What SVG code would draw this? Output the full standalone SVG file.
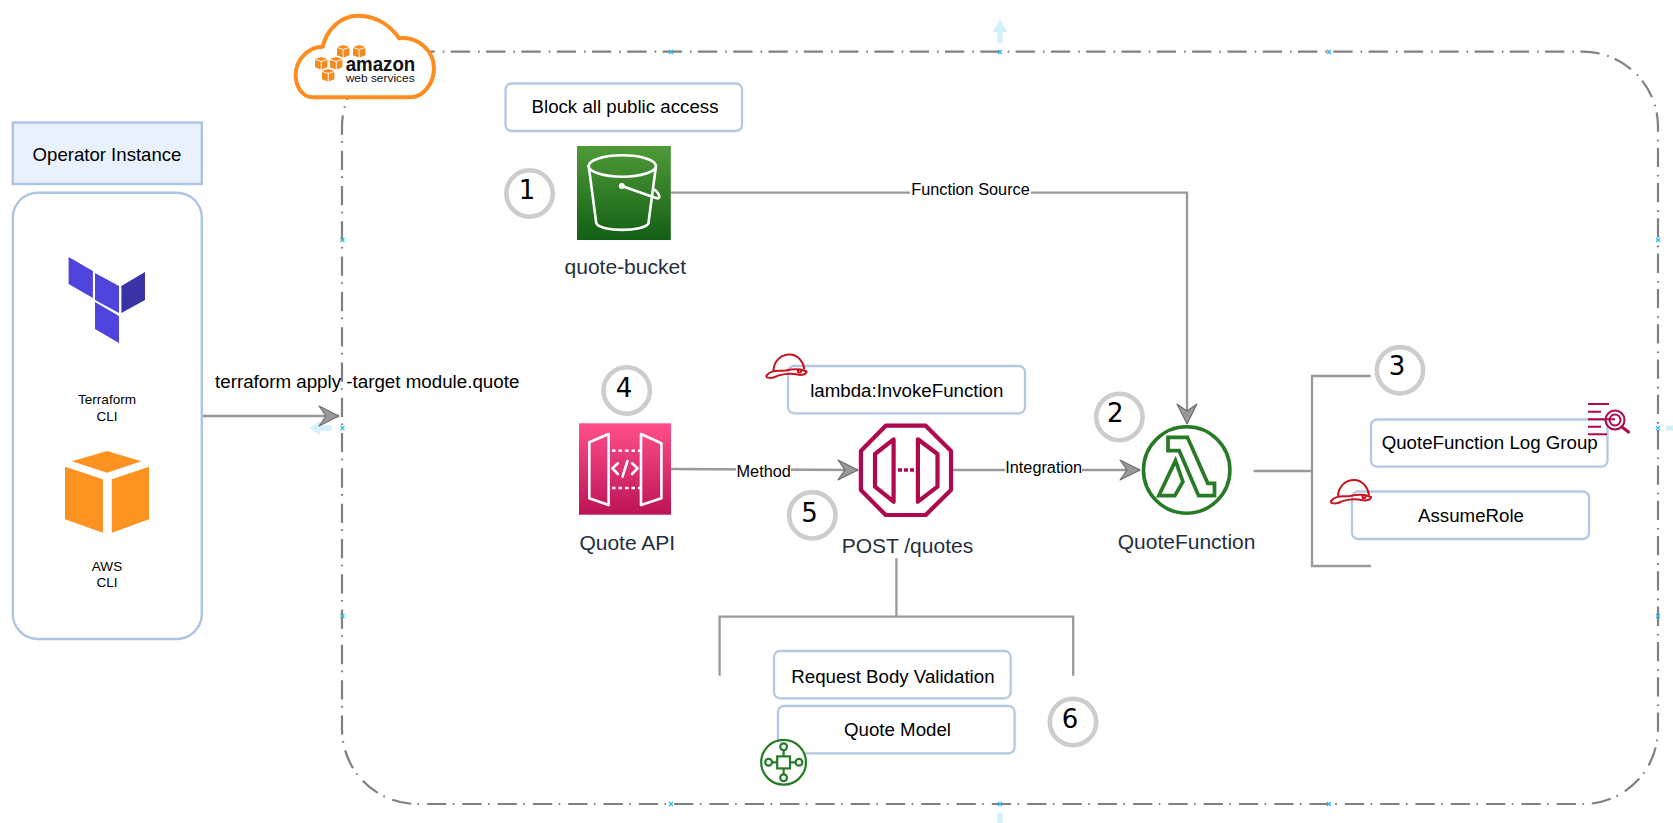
<svg xmlns="http://www.w3.org/2000/svg" xmlns:xlink="http://www.w3.org/1999/xlink" width="1673" height="823" viewBox="0 0 1673 823">
<style>
text{font-family:"Liberation Sans",Arial,sans-serif;fill:#000}
.c{text-anchor:middle}
.box{fill:#fff;stroke:#b4c8e2;stroke-width:2.3}
.t{font-size:18.7px}
.s{font-size:13.6px}
.e{font-size:16.3px}
.n{font-size:21px;fill:#232f3e}
.num{font-family:"DejaVu Sans",sans-serif;font-size:26px}
.ring{fill:#fff;stroke:#cdcdcd;stroke-width:4.6}
.line{fill:none;stroke:#999;stroke-width:2.3}
.hat{fill:none;stroke:#c7131f;stroke-width:2}
.w{fill:none;stroke:#fff;stroke-width:2.6;stroke-linejoin:round;stroke-linecap:round}
.crim{fill:none;stroke:#b0084d;stroke-width:4.2;stroke-linejoin:round}
.grn{fill:none;stroke:#277a26}
.flow{fill:#d4f0fc}
.x{fill:none;stroke:#29b6f2;stroke-width:1.1}
</style>
<defs>
<linearGradient id="gS3" x1="0" y1="0" x2="0" y2="1"><stop offset="0" stop-color="#4f9a38"/><stop offset="1" stop-color="#135f15"/></linearGradient>
<linearGradient id="gApi" x1="0" y1="0" x2="0" y2="1"><stop offset="0" stop-color="#ff4f8b"/><stop offset="1" stop-color="#bc1356"/></linearGradient>
<marker id="arrow" markerUnits="userSpaceOnUse" viewBox="-22 -12 24 24" refX="0" refY="0" markerWidth="24" markerHeight="24" orient="auto">
<path d="M0,0 L-20,-10 L-13,0 L-20,10 Z" fill="#999" stroke="#6e6e6e" stroke-width="1.1" stroke-linejoin="round"/>
</marker>
<path id="mark" d="M-2,-2 L2,2 M-2,2 L2,-2"/>
<g id="cube">
<path d="M6.2,0 L12.4,2 L6.2,4 L0,2 Z" fill="#f58a1f"/>
<path d="M0,3 L5.7,4.8 L5.7,12.4 L0,10.2 Z" fill="#f58a1f"/>
<path d="M6.7,4.8 L12.4,3 L12.4,10.2 L6.7,12.4 Z" fill="#f58a1f"/>
</g>
<g id="helmet">
<path d="M8,17 C8,6 16,0 24,0 C33,0 38,8 39,15"/>
<path d="M1,21 C6,15 12,17 20,16 C28,14 35,14 41,17 C41,20 36,21 32,20 C24,18 14,20 8,23 C4,24 0,23 1,21 Z"/>
<circle cx="34" cy="16.5" r="1.6"/>
</g>
</defs>
<rect width="1673" height="823" fill="#fff"/>

<g id="aws-frame">
<path d="M417,51.7 H1583 A75,75 0 0 1 1658,126.7 V729 A75,75 0 0 1 1583,804 H417 A75,75 0 0 1 342,729 V126.7 A75,75 0 0 1 417,51.7 Z" fill="none" stroke="#808080" stroke-width="2.2" stroke-dasharray="19.3 8 1.6 6.4" stroke-dashoffset="1.5"/>
<g class="x">
<use href="#mark" x="342.5" y="240"/><use href="#mark" x="342.5" y="428"/><use href="#mark" x="342.5" y="616"/>
<use href="#mark" x="671" y="52"/><use href="#mark" x="1000" y="52"/><use href="#mark" x="1329" y="52"/>
<use href="#mark" x="1658" y="240"/><use href="#mark" x="1658" y="428"/><use href="#mark" x="1658" y="616"/>
<use href="#mark" x="671" y="804"/><use href="#mark" x="1000" y="804"/><use href="#mark" x="1329" y="804"/>
</g>
<path class="flow" d="M1000,19 L1007.3,32 H1002.7 V43 H997.3 V32 H992.7 Z"/>
<path class="flow" d="M309,428 L320,421 V425.3 H332 V430.7 H320 V435 Z"/>
<rect class="flow" x="1666" y="425.5" width="7" height="5.4"/>
<rect class="flow" x="997.3" y="813" width="5.4" height="10"/>
</g>

<g id="connectors">
<path class="line" d="M202,416 H339" marker-end="url(#arrow)"/>
<path class="line" d="M671,192.7 H1187 V424" marker-end="url(#arrow)"/>
<path class="line" d="M671,469 L858,470" marker-end="url(#arrow)"/>
<path class="line" d="M952.5,470 H1140" marker-end="url(#arrow)"/>
<path class="line" d="M1253.6,471 H1312 M1370.7,376 H1312 V566 H1371"/>
<path class="line" d="M896.4,558.3 V616.7 M719.6,675.7 V616.7 H1073.2 V675.7"/>
<rect x="910" y="183" width="121" height="18" fill="#fff"/>
<text class="e c" x="970.5" y="195">Function Source</text>
<rect x="736" y="461" width="55" height="18" fill="#fff"/>
<text class="e c" x="763.7" y="477">Method</text>
<rect x="1005" y="459" width="77" height="18" fill="#fff"/>
<text class="e c" x="1043.7" y="472.7">Integration</text>
<text x="215" y="388" style="font-size:18.75px">terraform apply -target module.quote</text>
</g>

<g id="aws-cloud">
<g transform="translate(280,0) scale(0.3333)">
<path d="M100,292 C60,292 47,250 47,225 C47,175 90,140 128,140 C140,90 180,47 235,47 C290,47 335,80 357,115 C410,108 462,150 462,205 C462,250 430,292 390,292 Z" fill="#fff" stroke="#ff8c1e" stroke-width="12" stroke-linejoin="round"/>
</g>
<use href="#cube" x="337" y="45"/><use href="#cube" x="353" y="45"/>
<use href="#cube" x="315" y="57"/><use href="#cube" x="330" y="57"/><use href="#cube" x="322" y="69"/>
<text x="345.7" y="70.5" textLength="69.5" lengthAdjust="spacingAndGlyphs" style="font-size:20px;font-weight:bold;fill:#111">amazon</text>
<text x="345.7" y="82" textLength="69" lengthAdjust="spacingAndGlyphs" style="font-size:11.5px;fill:#111">web services</text>
</g>

<g id="operator-instance">
<rect x="12.8" y="122.5" width="189" height="61.5" fill="#e9f1fc" stroke="#adc4e2" stroke-width="2.4"/>
<text class="c" x="107" y="160.6" style="font-size:18.6px">Operator Instance</text>
</g>

<g id="operator-panel">
<rect x="12.8" y="192.7" width="189" height="446.3" rx="25" fill="#fff" stroke="#adc4e2" stroke-width="2.4"/>
</g>

<g id="terraform-cli">
<path fill="#4f43dd" d="M68.6,257 L92.9,271 V298 L68.6,284 Z M95,273 L119,286 V313 L95,300 Z M95,302 L119,316 V343 L95,329 Z"/>
<path fill="#3a33a8" d="M121.4,286 L145,272 V300 L121.4,313 Z"/>
<text class="s c" x="107" y="404">Terraform</text>
<text class="s c" x="107" y="420.7">CLI</text>
</g>

<g id="aws-cli">
<path fill="#fc9220" d="M107,451 L141.4,461.3 L107,472.7 L72,461.3 Z M65,466.7 L102.9,479.3 V532.7 L65,519.3 Z M111.8,479.3 L149,466.7 V519.3 L111.8,532.7 Z"/>
<text class="s c" x="107" y="570.7">AWS</text>
<text class="s c" x="107" y="586.7">CLI</text>
</g>

<g id="block-public-access">
<rect class="box" x="505.5" y="83.5" width="236.5" height="47.5" rx="6"/>
<text class="t c" x="625" y="112.7">Block all public access</text>
</g>

<g id="step-1">
<circle class="ring" cx="529.6" cy="193.5" r="23.2"/>
<text class="num c" x="527" y="199">1</text>
</g>

<g id="quote-bucket">
<rect x="577" y="146" width="93.8" height="94" fill="url(#gS3)"/>
<ellipse class="w" cx="622.3" cy="166" rx="33.7" ry="10.7"/>
<path class="w" d="M588.7,166 L596.3,223.3 C600,232 644,232 648.4,223.3 L656,166"/>
<path class="w" d="M621.8,186 L656,198 C661,200 660,194 655,190"/>
<circle cx="621.8" cy="186" r="3" fill="#fff"/>
<text class="n c" x="625.3" y="274">quote-bucket</text>
</g>

<g id="step-4">
<circle class="ring" cx="626.7" cy="390.5" r="23.2"/>
<text class="num c" x="624" y="396.7">4</text>
</g>

<g id="quote-api">
<rect x="579" y="423.3" width="92" height="91.4" fill="url(#gApi)"/>
<path class="w" d="M589.3,442.3 L608.6,434 V505 L589.3,498.3 Z M641,434 L661.4,443.3 V498.3 L641,505 Z"/>
<path class="w" stroke-dasharray="3.5 3" d="M612,450.7 H640 M612,488 H640" style="stroke-linecap:butt"/>
<path class="w" d="M617.9,463.3 L612.5,468.3 L617.9,474 M632.1,463.3 L637.5,468.3 L632.1,474 M627.5,461 L622.5,476.7"/>
<text class="n c" x="627.3" y="550">Quote API</text>
</g>

<g id="invoke-function">
<rect class="box" x="788" y="366" width="237" height="47.3" rx="6"/>
<text class="t c" x="906.8" y="397.3">lambda:InvokeFunction</text>
<use class="hat" href="#helmet" x="765.5" y="354.5"/>
</g>

<g id="post-quotes">
<path class="crim" d="M885.7,425.7 H925.7 L951,451 V490 L925.7,515 H885.7 L860.9,490 V451 Z"/>
<path class="crim" d="M893.6,439.3 L875,454 V486.7 L893.6,501.7 Z M917.9,439.3 L937.5,454 V486.7 L917.9,501.7 Z"/>
<path d="M898,470 H914" fill="none" stroke="#b0084d" stroke-width="3.6" stroke-dasharray="4 2"/>
<text class="n c" x="907.4" y="552.7">POST /quotes</text>
</g>

<g id="step-5">
<circle class="ring" cx="812.3" cy="515.3" r="23.2"/>
<text class="num c" x="809.6" y="521.7">5</text>
</g>

<g id="step-2">
<circle class="ring" cx="1119.4" cy="417" r="23.2"/>
<text class="num c" x="1115.3" y="422.3">2</text>
</g>

<g id="quote-function">
<circle cx="1186.7" cy="470" r="43.2" fill="none" stroke="#277a26" stroke-width="3.6"/>
<path class="grn" stroke-width="3.7" d="M1168,437.3 H1187.4 L1207.8,483.3 H1214.5 V495.7 H1198.6 L1179.2,450.7 H1168 Z M1175.5,460.7 L1182.9,481.7 L1174.8,495.7 H1158.8 Z"/>
<text class="n c" x="1186.6" y="549.3">QuoteFunction</text>
</g>

<g id="step-3">
<circle class="ring" cx="1400" cy="370.3" r="23.2"/>
<text class="num c" x="1397" y="375.3">3</text>
</g>

<g id="log-group">
<rect class="box" x="1371" y="419.5" width="236.5" height="47.2" rx="6"/>
<text class="t c" x="1489.7" y="449.3">QuoteFunction Log Group</text>
<path fill="none" stroke="#b0084d" stroke-width="2" d="M1588,404 H1609 M1588,411.7 H1601 M1588,419.3 H1615 M1588,426.7 H1601 M1588,434.3 H1607"/>
<circle cx="1615" cy="420" r="9.5" fill="none" stroke="#b0084d" stroke-width="2"/>
<circle cx="1615" cy="420" r="5.5" fill="none" stroke="#b0084d" stroke-width="2"/>
<path d="M1622,427 L1628.5,432" fill="none" stroke="#b0084d" stroke-width="3.2" stroke-linecap="round"/>
</g>

<g id="assume-role">
<rect class="box" x="1352" y="491.5" width="237" height="47.5" rx="6"/>
<text class="t c" x="1471" y="522.3">AssumeRole</text>
<use class="hat" href="#helmet" x="1330" y="480"/>
</g>

<g id="request-body-validation">
<rect class="box" x="774" y="651" width="236.7" height="47.3" rx="6"/>
<text class="t c" x="892.9" y="682.7">Request Body Validation</text>
</g>

<g id="quote-model">
<rect class="box" x="778" y="706" width="236.6" height="47.3" rx="6"/>
<text class="t c" x="897.5" y="736">Quote Model</text>
</g>

<g id="model-icon" class="grn" stroke-width="2.2">
<circle cx="783.6" cy="762.3" r="22.4" fill="#fff"/>
<rect x="777.2" y="756.4" width="12.8" height="12"/>
<circle cx="783.6" cy="746.7" r="3.4"/>
<circle cx="783.6" cy="777.7" r="3.4"/>
<circle cx="768.6" cy="762.3" r="3.4"/>
<circle cx="799" cy="762.3" r="3.4"/>
<path d="M783.6,750 V756.4 M783.6,768.4 V774.3 M772,762.3 H777.2 M790,762.3 H795.6"/>
</g>

<g id="step-6">
<circle class="ring" cx="1073" cy="722" r="23.2"/>
<text class="num c" x="1070" y="728">6</text>
</g>
</svg>
